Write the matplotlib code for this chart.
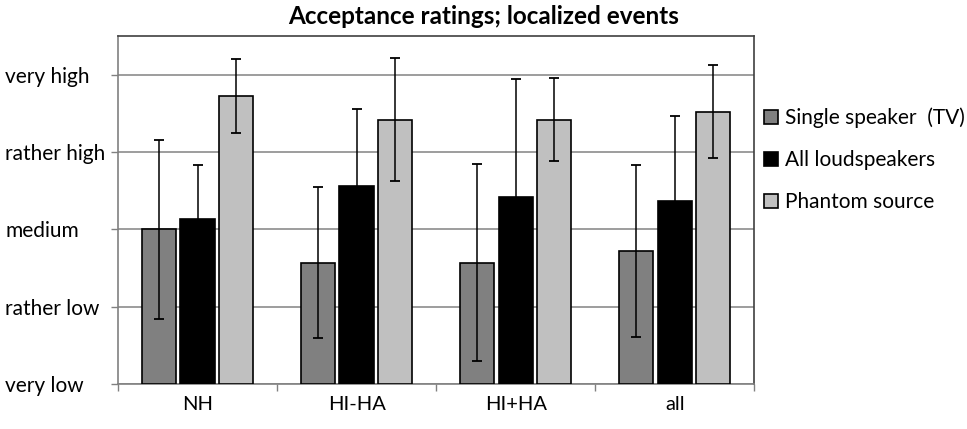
import matplotlib.pyplot as plt
import numpy as np

plt.rcParams['font.family'] = ['Lato', 'DejaVu Sans']

# ── Data ──────────────────────────────────────────────────────────────────────
groups = ['NH', 'HI-HA', 'HI+HA', 'all']
series = ['Single speaker  (TV)', 'All loudspeakers', 'Phantom source']
rating_labels = ['very low', 'rather low', 'medium', 'rather high', 'very high']

single_mean = [3.00, 2.57, 2.57, 2.72]
single_err = [1.16, 0.98, 1.27, 1.11]
all_ls_mean = [3.13, 3.56, 3.42, 3.37]
all_ls_err = [0.70, 0.99, 1.52, 1.09]
phantom_mean = [4.72, 4.42, 4.42, 4.52]
phantom_err = [0.48, 0.79, 0.54, 0.60]

means = [single_mean, all_ls_mean, phantom_mean]
errs = [single_err, all_ls_err, phantom_err]
colors = ['#808080', '#000000', '#c0c0c0']

# ── Figure ────────────────────────────────────────────────────────────────────
fig = plt.figure(figsize=(9.67, 4.29), dpi=100)
ax = fig.add_axes([0.122, 0.105, 0.658, 0.811])

x = np.arange(len(groups))
width = 0.215
step = 0.242
for i, (m, e, c, name) in enumerate(zip(means, errs, colors, series)):
    pos = x + (i - 1) * step
    ax.bar(pos, np.array(m) - 1, width, bottom=1, color=c, edgecolor='black',
           linewidth=1.2, label=name, zorder=3)
    ax.errorbar(pos, m, yerr=e, fmt='none', ecolor='black', elinewidth=1.1,
                capsize=3.6, capthick=1.3, zorder=4)

ax.set_xlim(-0.5, len(groups) - 0.5)
ax.set_ylim(1, 5.5)

ax.set_yticks(range(1, 6))
ax.set_yticklabels(rating_labels, fontsize=15, ha='left')
ax.tick_params(axis='y', length=5, width=1, color='#808080', pad=76)
ax.yaxis.grid(True, color='#8c8c8c', linewidth=1.2, zorder=0)

ax.set_xticks(x)
ax.set_xticklabels(groups, fontsize=14.5)
ax.tick_params(axis='x', length=0, pad=9)
# small separator ticks between groups
ax.set_xticks(np.arange(-0.5, len(groups)), minor=True)
ax.tick_params(axis='x', which='minor', length=5, width=1, color='#808080')

for side in ['top', 'right']:
    ax.spines[side].set_color('#404040')
    ax.spines[side].set_linewidth(1.2)
for side in ['left', 'bottom']:
    ax.spines[side].set_color('#808080')
    ax.spines[side].set_linewidth(1.2)

fig.text(0.5, 0.962, 'Acceptance ratings; localized events', ha='center',
         va='center', fontsize=17.5, fontweight='bold')

fig.legend(loc='center left', bbox_to_anchor=(0.771, 0.627), frameon=False,
           fontsize=15, handlelength=0.65, handleheight=0.65, handletextpad=0.35,
           labelspacing=1.05)

fig.savefig('out.png', dpi=100)
